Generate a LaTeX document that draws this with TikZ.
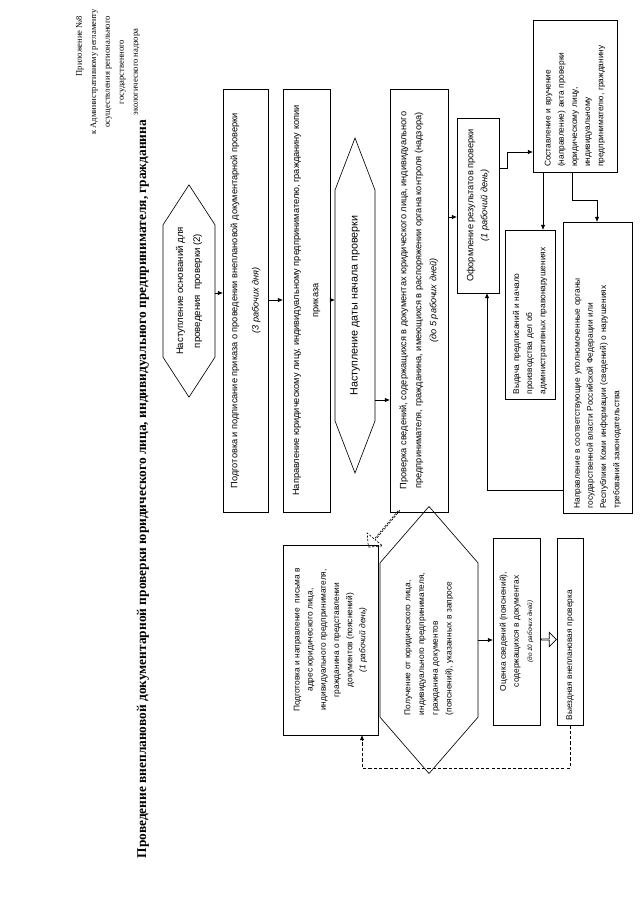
\documentclass[tikz,border=0pt]{standalone}
\usepackage{fontspec}
\setmainfont{Liberation Serif}
\newfontfamily\arialfont{Liberation Sans}
\usetikzlibrary{arrows.meta,shapes.symbols,shapes.arrows,calc}

\newlength\pxl
\setlength\pxl{0.0328cm}

\begin{document}
\begin{tikzpicture}[x=0.0328cm, y=-0.0328cm,
    box/.style={draw, line width=0.6pt, rotate=90, inner sep=2pt, align=center,
      font=\arialfont\fontsize{8.6}{13}\selectfont},
    smallbox/.style={box, font=\arialfont\fontsize{7.8}{12.3}\selectfont},
    hexa/.style={box, signal, signal to=east and west},
    link/.style={line width=0.6pt, -{Triangle[length=4.5pt,width=3.6pt]}},
    back/.style={link, dash pattern=on 3pt off 2pt},
    hollow/.style={single arrow, draw, line width=0.6pt, inner sep=0pt}]
  \useasboundingbox (0,0) rectangle (640,905);

  % header
  \node[rotate=90, anchor=east, font=\fontsize{8}{13}\selectfont] (app) at (80,12) {Приложение №8};
  \node[rotate=90, align=center, font=\fontsize{8}{13}\selectfont] (reg) at (115,72)
    {к Административному регламенту\\осуществления регионального\\государственного\\экологического надзора};
  \node[rotate=90, anchor=west, font=\bfseries\fontsize{12.5}{14}\selectfont] (title) at (143,862)
    {Проведение внеплановой документарной проверки юридического лица, индивидуального предпринимателя, гражданина};

  % main chain
  \node[hexa, minimum width=210\pxl, minimum height=52\pxl, signal pointer angle=66,
    font=\arialfont\fontsize{9}{16}\selectfont] (start) at (189,291)
    {Наступление оснований для\\проведения \ проверки (2)};
  \node[box, minimum width=423\pxl, minimum height=45\pxl] (order) at (245.5,300.5)
    {Подготовка и подписание приказа о проведении внеплановой документарной проверки\\[7pt]\textit{(3 рабочих дня)}};
  \node[box, minimum width=423\pxl, minimum height=47\pxl] (copy) at (306.5,300.5)
    {Направление юридическому лицу, индивидуальному предпринимателю, гражданину копии\\[5pt]приказа};
  \node[hexa, minimum width=335\pxl, minimum height=40\pxl, signal pointer angle=42,
    font=\arialfont\fontsize{10}{13}\selectfont] (date) at (355,305.5)
    {Наступление даты начала проверки};
  \node[box, minimum width=423\pxl, minimum height=58\pxl, font=\arialfont\fontsize{8.6}{14}\selectfont] (check) at (419,300.5)
    {Проверка сведений, содержащихся в документах юридического лица, индивидуального\\предпринимателя, гражданина, имеющихся в распоряжении органа контроля (надзора)\\\textit{(до 5 рабочих дней)}};
  \node[box, minimum width=175\pxl, minimum height=42\pxl] (result) at (478,205.5)
    {Оформление результатов проверки\\\textit{(1 рабочий день)}};
  \node[smallbox, align=left, text width=142\pxl, minimum width=152\pxl, minimum height=84\pxl] (act) at (575,96)
    {Составление и вручение\\(направление) акта проверки\\юридическому лицу,\\индивидуальному\\предпринимателю, гражданину};
  \node[smallbox, align=left, text width=160\pxl, minimum width=169\pxl, minimum height=50\pxl] (orders) at (530,314.5)
    {Выдача предписаний и начало\\производства дел об\\административных правонарушениях};
  \node[smallbox, align=left, text width=282\pxl, minimum width=291\pxl, minimum height=69\pxl] (notify) at (597.5,367.5)
    {Направление в соответствующие уполномоченные органы\\государственной власти Российской Федерации или\\Республики Коми информации (сведений) о нарушениях\\требований законодательства};

  % request branch
  \node[smallbox, minimum width=190\pxl, minimum height=95\pxl] (letter) at (330.5,640)
    {Подготовка и направление \ письма в\\адрес юридического лица,\\индивидуального предпринимателя,\\гражданина о представлении\\документов (пояснений)\\\textit{(1 рабочий день)}};
  \node[hexa, font=\arialfont\fontsize{7.8}{12.8}\selectfont, align=left, text width=150\pxl,
    minimum width=266\pxl, minimum height=98\pxl, signal pointer angle=82] (reply) at (429,640)
    {Получение от юридического лица,\\индивидуального предпринимателя,\\гражданина документов\\(пояснений), указанных в запросе};
  \node[smallbox, minimum width=187\pxl, minimum height=47\pxl] (assess) at (516.5,631.5)
    {Оценка сведений (пояснений),\\содержащихся в документах\\{\fontsize{6}{8}\selectfont\textit{(до 10 рабочих дней)}}};
  \node[smallbox, align=left, text width=178\pxl, minimum width=187\pxl, minimum height=26\pxl] (visit) at (570,631.5)
    {Выездная внеплановая проверка};

  % bends
  \coordinate (sa) at (219,293);
  \coordinate (ab) at (275,300);
  \coordinate (bc) at (332,300);
  \coordinate (cd) at (382,400);
  \coordinate (de) at (452,217);
  \coordinate (ef1) at (507,168);
  \coordinate (ef2) at (507,152);
  \coordinate (fg) at (543,200);
  \coordinate (fh1) at (572,200);
  \coordinate (fh2) at (597,200);
  \coordinate (he) at (487,490);
  \coordinate (li) at (362,768);

  \draw[link] (sa -| start.south) -- (sa -| order.north);
  \draw[link] (ab -| order.south) -- (ab -| copy.north);
  \draw[link] (bc -| copy.south) -- (bc -| date.north);
  \draw[link] (cd -| date.south) -- (cd -| check.north);
  \draw[link] (de -| check.south) -- (de -| result.north);
  \draw[link] (ef1 -| result.south) -- (ef1) -- (ef2) -- (ef2 -| act.north);
  \draw[link] (fg |- act.west) -- (fg |- orders.east);
  \draw[link] (fh1 |- act.west) -- (fh1) -- (fh2) -- (fh2 |- notify.east);
  \draw[link] (he -| notify.north) -- (he) -- (result.west -| he);
  \draw[link] (reply.south) -- (reply.south -| assess.north);
  \draw[back] (visit.west) |- (li) -- (letter.west -| li);

  \node[hollow, dash pattern=on 2pt off 1.5pt, minimum height=48\pxl, minimum width=20\pxl,
    single arrow head extend=5\pxl, rotate=-130] (toletter) at ($(check.north west)!0.5!(letter.south east)$) {};
  \node[hollow, minimum height=15\pxl, minimum width=14\pxl, single arrow head extend=3.5\pxl]
    (tovisit) at ($(assess.south)!0.5!(visit.north) + (0,8)$) {};
\end{tikzpicture}
\end{document}
